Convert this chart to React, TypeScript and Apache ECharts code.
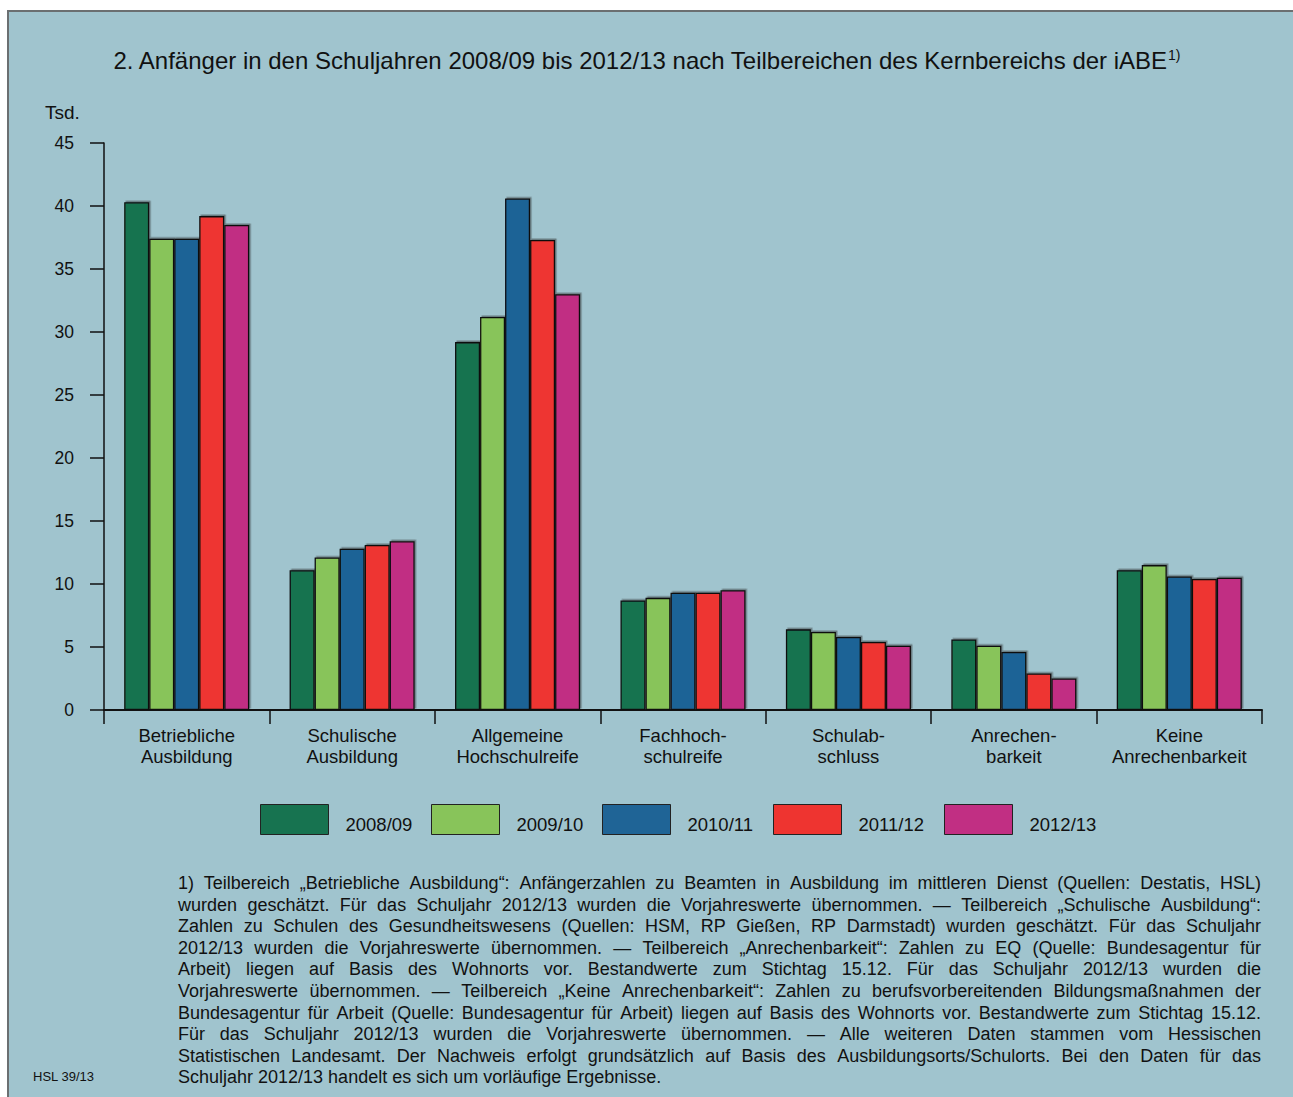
import React, { useEffect, useRef } from "react";
import * as echarts from "echarts";

// Categories (two-line labels) and the school years shown as series
const categories = [
  "Betriebliche\nAusbildung",
  "Schulische\nAusbildung",
  "Allgemeine\nHochschulreife",
  "Fachhoch-\nschulreife",
  "Schulab-\nschluss",
  "Anrechen-\nbarkeit",
  "Keine\nAnrechenbarkeit",
];

const years = ["2008/09", "2009/10", "2010/11", "2011/12", "2012/13"];
const yearColors = ["#177350", "#88C45A", "#1F6496", "#EE3430", "#C12F83"];

// Anfänger in Tsd.
const v200809 = [40.3, 11.1, 29.2, 8.7, 6.4, 5.6, 11.1];
const v200910 = [37.4, 12.1, 31.2, 8.9, 6.2, 5.1, 11.5];
const v201011 = [37.4, 12.8, 40.6, 9.3, 5.8, 4.6, 10.6];
const v201112 = [39.2, 13.1, 37.3, 9.3, 5.4, 2.9, 10.4];
const v201213 = [38.5, 13.4, 33.0, 9.5, 5.1, 2.5, 10.5];
const seriesValues = [v200809, v200910, v201011, v201112, v201213];

const yTicks = { min: 0, max: 45, interval: 5 };

const titleText =
  "2. Anfänger in den Schuljahren 2008/09 bis 2012/13 nach Teilbereichen des Kernbereichs der iABE";

const footnoteLines = [
  "1) Teilbereich „Betriebliche Ausbildung“: Anfängerzahlen zu Beamten in Ausbildung im mittleren Dienst (Quellen: Destatis, HSL)",
  "wurden geschätzt. Für das Schuljahr 2012/13 wurden die Vorjahreswerte übernommen. — Teilbereich „Schulische Ausbildung“:",
  "Zahlen zu Schulen des Gesundheitswesens (Quellen: HSM, RP Gießen, RP Darmstadt) wurden geschätzt. Für das Schuljahr",
  "2012/13 wurden die Vorjahreswerte übernommen. — Teilbereich „Anrechenbarkeit“: Zahlen zu EQ (Quelle: Bundesagentur für",
  "Arbeit) liegen auf Basis des Wohnorts vor. Bestandwerte zum Stichtag 15.12. Für das Schuljahr 2012/13 wurden die",
  "Vorjahreswerte übernommen.  — Teilbereich „Keine Anrechenbarkeit“: Zahlen zu berufsvorbereitenden Bildungsmaßnahmen der",
  "Bundesagentur für Arbeit (Quelle: Bundesagentur für Arbeit) liegen auf Basis des Wohnorts vor. Bestandwerte zum Stichtag 15.12.",
  "Für das Schuljahr 2012/13 wurden die Vorjahreswerte übernommen. — Alle weiteren Daten stammen vom Hessischen",
  "Statistischen Landesamt. Der Nachweis erfolgt grundsätzlich auf Basis des Ausbildungsorts/Schulorts. Bei den Daten für das",
  "Schuljahr 2012/13 handelt es sich um vorläufige Ergebnisse.",
];

const FONT = "'Liberation Sans', Arial, Helvetica, sans-serif";
const W = 1293;
const H = 1097;

// Builds justified footnote text: every word of a full line is placed so that
// the line spans the block width; the last line stays left-aligned.
function buildFootnote(left: number, right: number, top: number, lineH: number) {
  const ctx = document.createElement("canvas").getContext("2d")!;
  const blockW = right - left;
  const measure = (s: string, size: number) => {
    ctx.font = `${size}px 'Liberation Sans'`;
    return ctx.measureText(s).width;
  };
  // pick a font size so that the widest line fits the block with normal spacing
  let widest = 0;
  footnoteLines.forEach((l) => {
    widest = Math.max(widest, measure(l.replace(/\s+/g, " "), 100));
  });
  const size = Math.min(18, Math.floor((blockW / widest) * 100 * 10) / 10);
  const els: any[] = [];
  footnoteLines.forEach((line, i) => {
    const y = top + i * lineH;
    const words = line.split(/\s+/);
    const last = i === footnoteLines.length - 1;
    const widths = words.map((w) => measure(w, size));
    const total = widths.reduce((a, b) => a + b, 0);
    const gap = last ? measure(" ", size) : (blockW - total) / (words.length - 1);
    let x = left;
    words.forEach((w, k) => {
      els.push({
        type: "text",
        x,
        y,
        style: {
          text: w,
          font: `${size}px ${FONT}`,
          fill: "#111",
          verticalAlign: "middle",
          align: "left",
        },
      });
      x += widths[k] + gap;
    });
  });
  return els;
}

export default function App() {
  const ref = useRef<HTMLDivElement>(null);

  useEffect(() => {
    if (!ref.current) return;
    const chart = echarts.init(ref.current, undefined, { renderer: "svg", width: W, height: H });

    const gridLeft = 104;
    const gridRight = 1262;
    const gridTop = 143;
    const gridBottom = 710;

    const series = years.map((y, i) => ({
      name: y,
      type: "bar",
      data: seriesValues[i],
      barGap: "0%",
      barCategoryGap: "24.4%",
      itemStyle: {
        color: yearColors[i],
        borderColor: "#111",
        borderWidth: 1.3,
        shadowColor: "rgba(40,40,40,0.45)",
        shadowOffsetX: 1.5,
        shadowOffsetY: -1.5,
        shadowBlur: 0,
      },
    }));

    const legends = years.map((y, i) => ({
      data: [y],
      left: 260 + i * 171,
      top: 804,
      padding: 0,
      orient: "horizontal",
      icon: "rect",
      itemWidth: 68,
      itemHeight: 30,
      selectedMode: false,
      itemStyle: { borderColor: "#222", borderWidth: 1 },
      formatter: "{t|{name}}",
      textStyle: {
        fontFamily: FONT,
        fontSize: 18.5,
        color: "#111",
        rich: {
          t: {
            fontFamily: FONT,
            fontSize: 18.5,
            color: "#111",
            padding: [10, 0, 0, 12],
          },
        },
      },
    }));

    chart.setOption({
      animation: false,
      backgroundColor: "transparent",
      title: {
        text: `${titleText}{sup|1)}`,
        left: "center",
        top: 48,
        padding: 0,
        textStyle: {
          fontFamily: FONT,
          fontSize: 24,
          fontWeight: "normal",
          color: "#111",
          rich: {
            sup: {
              fontFamily: FONT,
              fontSize: 14,
              verticalAlign: "top",
              padding: [0, 0, 10, 0],
              color: "#111",
            },
          },
        },
      },
      legend: legends,
      grid: {
        left: gridLeft,
        right: W - gridRight,
        top: gridTop,
        bottom: H - gridBottom,
        containLabel: false,
      },
      xAxis: {
        type: "category",
        data: categories,
        boundaryGap: true,
        axisLine: { lineStyle: { color: "#111", width: 2 } },
        axisTick: { show: true, length: 14, lineStyle: { color: "#111", width: 1.5 } },
        axisLabel: {
          interval: 0,
          margin: 15,
          fontFamily: FONT,
          fontSize: 18.5,
          lineHeight: 21,
          color: "#111",
          align: "center",
        },
      },
      yAxis: {
        type: "value",
        min: yTicks.min,
        max: yTicks.max,
        interval: yTicks.interval,
        splitLine: { show: false },
        axisLine: { show: true, lineStyle: { color: "#111", width: 1.5 } },
        axisTick: { show: true, length: 14, lineStyle: { color: "#111", width: 1.5 } },
        axisLabel: {
          margin: 30,
          fontFamily: FONT,
          fontSize: 17.5,
          color: "#111",
        },
      },
      series,
      graphic: [
        {
          type: "text",
          left: 45,
          top: 103,
          style: { text: "Tsd.", font: `19px ${FONT}`, fill: "#111" },
        },
        {
          type: "text",
          left: 33,
          top: 1070,
          style: { text: "HSL 39/13", font: `13px ${FONT}`, fill: "#111" },
        },
        ...buildFootnote(178, 1261, 883, 21.6),
      ],
    });

    return () => chart.dispose();
  }, []);

  return (
    <div
      style={{
        position: "absolute",
        left: 0,
        top: 0,
        width: W,
        height: H,
        overflow: "hidden",
        background: "#ffffff",
      }}
    >
      <div
        style={{
          position: "absolute",
          left: 7,
          top: 10,
          width: W + 20,
          height: H + 20,
          background: "#A0C4CE",
          borderLeft: "2px solid #6B6F71",
          borderTop: "2px solid #6B6F71",
        }}
      />
      <div ref={ref} style={{ position: "absolute", left: 0, top: 0, width: W, height: H }} />
    </div>
  );
}
